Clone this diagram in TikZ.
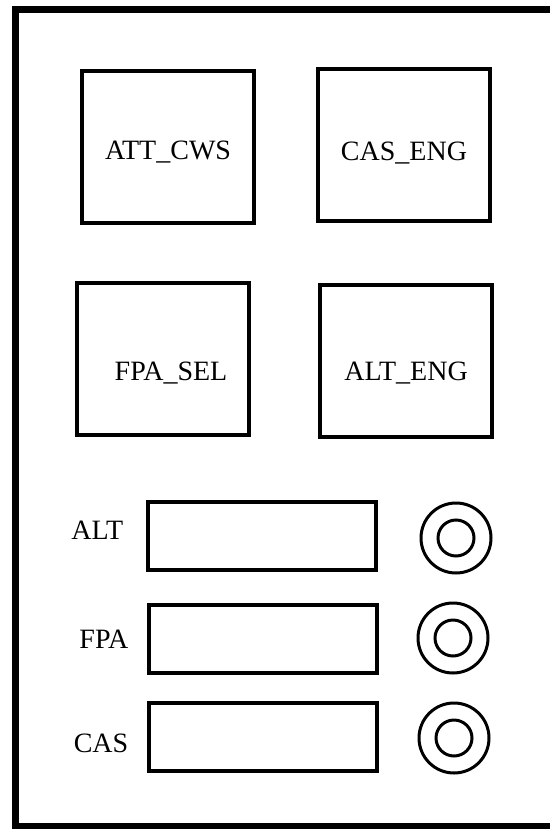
\documentclass[tikz,border=0pt]{standalone}
\usepackage{fontspec}
\setmainfont{Liberation Serif}
\usetikzlibrary{positioning}

\begin{document}
\begin{tikzpicture}[x=0.5pt, y=-0.5pt,
    panelbox/.style={draw, line width=1.9pt, minimum width=86pt, minimum height=76pt, font=\fontsize{14}{16}\selectfont, text height=#1, text depth=0pt},
    readout/.style={draw, line width=1.7pt, minimum width=114pt, minimum height=34pt},
    knob/.style={draw, circle, line width=1.5pt, minimum size=35pt, inner sep=0pt},
    tag/.style={font=\fontsize{14}{16}\selectfont, left=6pt of #1}]
    \useasboundingbox (0,0) rectangle (550,829);
    \draw[line width=3.5pt] (550,10)--(15,10)--(15,826)--(550,826);

    \node[panelbox=12.5pt] (attcws) at (168,147) {ATT\_CWS};
    \node[panelbox=15pt] (caseng) at (404,145) {CAS\_ENG};
    \node[panelbox=21pt] (fpasel) at (163,359) {\hspace{8pt}FPA\_SEL};
    \node[panelbox=19pt] (alteng) at (406,361) {ALT\_ENG};

    \node[readout] (altbox) at (262,536) {};
    \node[readout] (fpabox) at (263,639) {};
    \node[readout] (casbox) at (263,737) {};

    \node[tag=altbox, xshift=-2pt, yshift=3pt] (altlabel) {ALT};
    \node[tag=fpabox] (fpalabel) {FPA};
    \node[tag=casbox, yshift=-3pt] (caslabel) {CAS};

    \node[knob] (altknob) at (456,538) {};
    \node[knob] (fpaknob) at (453,638) {};
    \node[knob] (casknob) at (454,738) {};
    \draw[line width=1.5pt] (altknob.center) circle[radius=9pt];
    \draw[line width=1.5pt] (fpaknob.center) circle[radius=9pt];
    \draw[line width=1.5pt] (casknob.center) circle[radius=9pt];
\end{tikzpicture}
\end{document}
